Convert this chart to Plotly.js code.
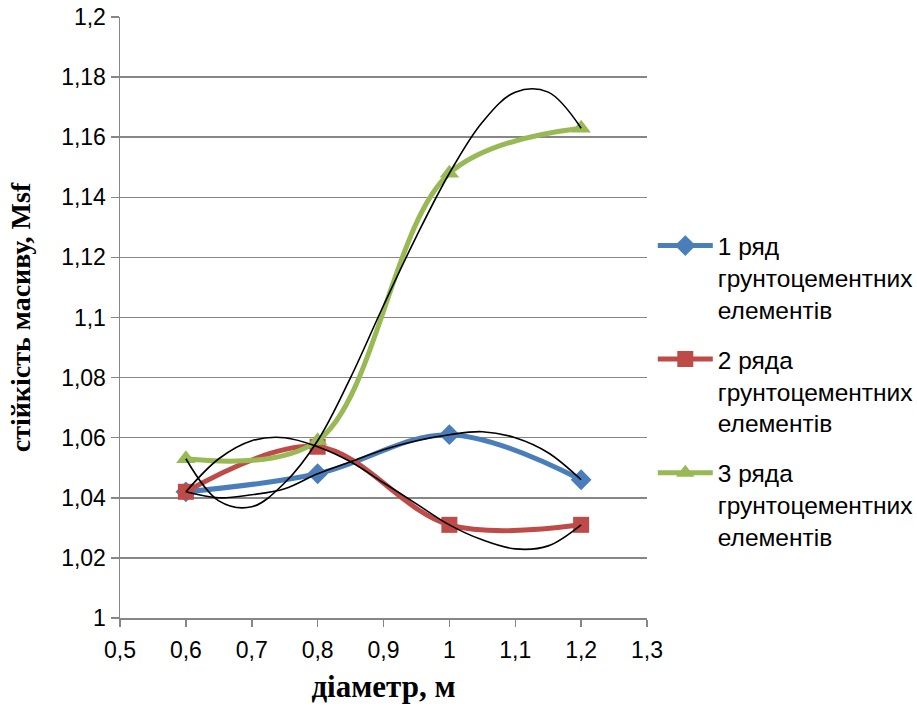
<!DOCTYPE html>
<html>
<head>
<meta charset="utf-8">
<script src="https://cdn.plot.ly/plotly-3.0.1.min.js"></script>
<style>html,body{margin:0;padding:0;background:#fff;}#chart{width:917px;height:717px;}</style>
</head>
<body>
<div id="chart"></div>
<script>
// Diameters (x) and stability values (y)
const diameters = [0.6, 0.8, 1.0, 1.2];
const row1 = [1.042, 1.048, 1.061, 1.046];
const row2 = [1.042, 1.057, 1.031, 1.031];
const row3 = [1.053, 1.059, 1.148, 1.163];
const seriesNames = [
  "1 ряд<br>грунтоцементних<br>елементів",
  "2 ряда<br>грунтоцементних<br>елементів",
  "3 ряда<br>грунтоцементних<br>елементів"
];
// Black polynomial trendlines
const trendX = [0.6, 0.65, 0.7, 0.75, 0.8, 0.85, 0.9, 0.95, 1.0, 1.05, 1.1, 1.15, 1.2];
const trend1 = [1.042, 1.040, 1.041, 1.043, 1.048, 1.052, 1.056, 1.059, 1.061, 1.062, 1.060, 1.055, 1.046];
const trend2 = [1.042, 1.053, 1.059, 1.060, 1.057, 1.052, 1.045, 1.038, 1.031, 1.026, 1.023, 1.024, 1.031];
const trend3 = [1.053, 1.039, 1.037, 1.045, 1.059, 1.080, 1.104, 1.127, 1.148, 1.165, 1.175, 1.175, 1.163];
const yTickVals = [1, 1.02, 1.04, 1.06, 1.08, 1.1, 1.12, 1.14, 1.16, 1.18, 1.2];
const yTickText = ["1", "1,02", "1,04", "1,06", "1,08", "1,1", "1,12", "1,14", "1,16", "1,18", "1,2"];
const xTickVals = [0.5, 0.6, 0.7, 0.8, 0.9, 1.0, 1.1, 1.2, 1.3];
const xTickText = ["0,5", "0,6", "0,7", "0,8", "0,9", "1", "1,1", "1,2", "1,3"];

const colors = ["#4A7EBB", "#BE4B48", "#98B954"];
const symbols = ["diamond", "square", "triangle-up"];
const sizes = [16, 16, 17];
const series = [row1, row2, row3];
const trends = [trend1, trend2, trend3];

const traces = [];
series.forEach((ys, i) => {
  traces.push({
    x: diameters, y: ys, name: seriesNames[i], type: "scatter", mode: "lines+markers",
    line: {color: colors[i], width: 5, shape: "spline", smoothing: 1},
    marker: {symbol: symbols[i], size: sizes[i], color: colors[i]},
    legendgroup: "g" + i
  });
});
trends.forEach((ys, i) => {
  traces.push({
    x: trendX, y: ys, type: "scatter", mode: "lines", showlegend: false,
    line: {color: "#000000", width: 1.6, shape: "spline", smoothing: 1},
    hoverinfo: "skip"
  });
});

const layout = {
  width: 917, height: 717,
  margin: {l: 120, r: 270, t: 17, b: 99, autoexpand: false},
  paper_bgcolor: "#fff", plot_bgcolor: "#fff",
  showlegend: true,
  legend: {
    x: 1.011, xanchor: "left", y: 0.657, yanchor: "top",
    xref: "paper", yref: "paper",
    font: {family: "Liberation Sans, Arial, sans-serif", size: 24.5, color: "#000"},
    traceorder: "grouped", tracegroupgap: 15, valign: "top",
    bgcolor: "rgba(0,0,0,0)", borderwidth: 0, itemwidth: 55
  },
  xaxis: {
    range: [0.5, 1.3], tickvals: xTickVals, ticktext: xTickText,
    showgrid: false, zeroline: false, automargin: false,
    showline: true, linecolor: "#868686", linewidth: 1.5,
    ticks: "outside", ticklen: 7, tickcolor: "#868686", tickwidth: 1.5,
    tickfont: {family: "Liberation Sans, Arial, sans-serif", size: 23, color: "#000"},
    ticklabelstandoff: 4,
    title: {text: "<b>діаметр, м</b>", font: {family: "Liberation Serif, Times New Roman, serif", size: 31, color: "#000"}, standoff: 13}
  },
  yaxis: {
    range: [1, 1.2], tickvals: yTickVals, ticktext: yTickText,
    showgrid: true, gridcolor: "#868686", gridwidth: 1.5, zeroline: false, automargin: false,
    showline: true, linecolor: "#868686", linewidth: 1.5,
    ticks: "outside", ticklen: 8, tickcolor: "#868686", tickwidth: 1.5,
    tickfont: {family: "Liberation Sans, Arial, sans-serif", size: 23, color: "#000"},
    title: {text: "<b>стійкість масиву, Msf</b>", font: {family: "Liberation Serif, Times New Roman, serif", size: 28, color: "#000"}, standoff: 22}
  }
};
Plotly.newPlot("chart", traces, layout, {displayModeBar: false, staticPlot: true});
</script>
</body>
</html>
